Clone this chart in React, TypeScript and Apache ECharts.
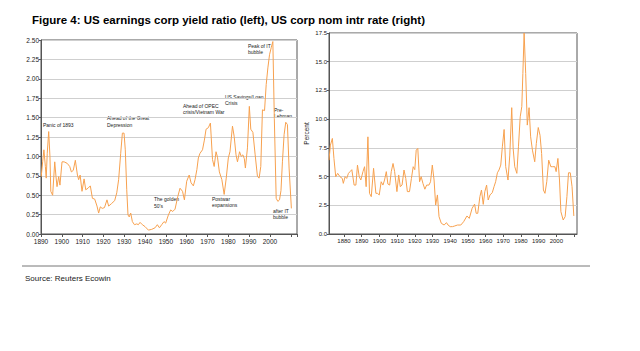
import React, { useEffect, useRef } from "react";
import * as echarts from "echarts";

const TITLE = "Figure 4: US earnings corp yield ratio (left), US corp nom intr rate (right)";
const SOURCE = "Source: Reuters Ecowin";

const ratioYears = [
  1890.1, 1890.8, 1891.4, 1892.1, 1892.5, 1893.0, 1893.7, 1894.3, 1894.7, 1895.6,
  1896.6, 1897.2, 1897.7, 1898.5, 1899.1, 1900.1, 1901.1, 1902.6, 1903.8, 1904.6,
  1905.5, 1906.5, 1907.5, 1908.1, 1908.8, 1909.7, 1910.7, 1911.5, 1912.6, 1913.7,
  1914.7, 1915.8, 1916.9, 1917.7, 1918.5, 1919.4, 1920.5, 1921.7, 1922.5, 1923.8,
  1925.4, 1926.4, 1927.3, 1928.3, 1929.1, 1929.9, 1930.5, 1931.2, 1931.8, 1932.4,
  1933.1, 1933.9, 1934.9, 1936.0, 1936.8, 1937.6, 1938.7, 1940.0, 1941.6, 1943.2,
  1944.8, 1945.9, 1946.9, 1948.0, 1949.1, 1949.9, 1951.2, 1952.3, 1953.3, 1954.4,
  1955.7, 1956.8, 1958.0, 1958.9, 1960.0, 1961.2, 1962.1, 1963.2, 1964.0, 1964.9,
  1965.6, 1966.4, 1967.6, 1968.5, 1969.3, 1970.4, 1971.4, 1972.4, 1973.2, 1974.1,
  1974.8, 1975.7, 1976.9, 1978.0, 1979.0, 1980.0, 1980.8, 1982.0, 1982.8, 1983.7,
  1984.4, 1985.4, 1986.2, 1987.0, 1987.7, 1988.2, 1989.2, 1990.1, 1990.8, 1991.8,
  1992.9, 1994.0, 1994.8, 1995.6, 1996.4, 1997.4, 1998.2, 1999.0, 1999.8, 2000.6,
  2001.4, 2002.1, 2003.0, 2003.8, 2004.6, 2005.3, 2006.0, 2006.8, 2007.6, 2008.4,
  2009.2, 2010.3,
];
const ratioValues = [
  0.74, 0.93, 1.085, 0.87, 0.72, 1.04, 1.32, 1.0, 0.55, 0.5,
  0.93, 0.74, 0.61, 0.74, 0.63, 0.93, 0.93, 0.91, 0.87, 0.8,
  0.82, 0.95, 0.76, 0.7, 0.76, 0.55, 0.71, 0.57, 0.59, 0.62,
  0.46, 0.45, 0.36, 0.27, 0.35, 0.33, 0.34, 0.44, 0.36, 0.39,
  0.43, 0.53, 0.7, 1.04, 1.3, 1.3, 1.085, 0.57, 0.245, 0.22,
  0.27, 0.16, 0.12, 0.13, 0.12, 0.15, 0.12, 0.095, 0.05, 0.06,
  0.08, 0.12, 0.08, 0.12, 0.16, 0.14, 0.245, 0.31, 0.29, 0.32,
  0.48, 0.59, 0.55, 0.44, 0.68, 0.76, 0.66, 0.62, 0.7, 0.83,
  0.98, 1.04, 1.085, 1.21, 1.35, 1.37, 1.43, 0.96, 0.87, 1.06,
  0.99, 0.8, 0.7, 0.51, 0.72, 0.98, 1.06, 1.39, 1.26, 1.02,
  0.93, 1.06, 1.0, 1.02, 0.97, 0.85, 1.11, 1.645, 1.35, 1.31,
  1.02, 0.74, 0.72, 0.87, 1.6, 1.59, 1.925, 2.14, 2.31, 2.4,
  2.48, 1.49, 0.46, 0.42, 0.44, 0.56, 0.93, 1.28, 1.44, 1.41,
  0.85, 0.33,
];

const rateYears = [
  1871.5, 1872.3, 1873.4, 1874.3, 1875.3, 1876.4, 1877.7, 1879.0, 1879.6, 1880.6,
  1881.5, 1882.5, 1883.4, 1884.4, 1885.7, 1886.7, 1887.6, 1888.6, 1889.5, 1890.7,
  1891.6, 1892.5, 1893.5, 1894.4, 1895.4, 1896.7, 1898.0, 1898.9, 1899.9, 1901.0,
  1902.0, 1902.9, 1903.9, 1904.8, 1905.8, 1906.7, 1907.7, 1908.6, 1909.9, 1910.9,
  1911.8, 1912.8, 1913.9, 1914.9, 1915.8, 1917.0, 1918.1, 1919.1, 1920.0, 1920.8,
  1921.7, 1922.7, 1923.6, 1924.6, 1925.7, 1926.7, 1928.0, 1928.9, 1929.9, 1930.9,
  1931.8, 1932.8, 1933.7, 1935.0, 1936.6, 1937.9, 1938.8, 1940.0, 1941.3, 1942.6,
  1944.1, 1946.0, 1947.6, 1949.5, 1950.8, 1952.4, 1953.8, 1954.7, 1955.6, 1956.8,
  1957.7, 1958.7, 1959.6, 1960.6, 1961.5, 1962.5, 1963.8, 1964.8, 1965.7, 1966.7,
  1967.6, 1968.6, 1969.5, 1970.5, 1971.4, 1972.7, 1973.7, 1974.8, 1975.6, 1976.5,
  1977.7, 1978.6, 1979.6, 1980.5, 1981.1, 1981.8, 1982.7, 1983.6, 1984.6, 1985.5,
  1986.5, 1987.8, 1988.7, 1989.8, 1990.8, 1991.7, 1992.7, 1993.6, 1994.6, 1995.7,
  1996.9, 1998.0, 1999.2, 1999.9, 2000.9, 2001.8, 2002.6, 2003.9, 2005.0, 2006.0,
  2006.9, 2007.9, 2008.9, 2009.9,
];
const rateValues = [
  6.43, 7.74, 8.32, 6.58, 4.99, 5.28, 4.99, 4.84, 4.41, 4.99,
  4.84, 5.28, 5.43, 5.6, 4.26, 4.26, 6.0, 4.99, 4.7, 5.43,
  5.86, 4.12, 8.46, 3.54, 3.25, 5.72, 3.54, 3.54, 3.4, 4.55,
  4.26, 4.7, 5.43, 4.35, 4.26, 5.43, 6.14, 5.43, 3.69, 5.14,
  4.12, 4.26, 5.57, 4.84, 3.69, 3.69, 4.84, 5.86, 5.6, 7.3,
  7.45, 4.55, 4.99, 4.41, 3.9, 4.26, 4.26, 4.55, 6.0, 4.7,
  2.52, 3.4, 1.51, 0.93, 0.78, 0.99, 0.78, 0.64, 0.64, 0.7,
  0.78, 0.78, 1.07, 1.57, 1.36, 2.23, 2.6, 1.8, 1.8, 3.25,
  3.83, 2.58, 3.69, 4.26, 2.96, 3.4, 3.6, 4.12, 4.55, 5.33,
  5.57, 6.0, 7.59, 9.1, 5.86, 4.7, 6.87, 11.0, 7.45, 5.86,
  5.28, 7.59, 10.2, 11.09, 13.97, 17.5, 13.97, 9.48, 11.0, 8.46,
  7.3, 6.29, 7.88, 9.27, 8.6, 7.01, 3.83, 3.54, 4.55, 6.43,
  5.86, 5.86, 5.86, 5.43, 6.58, 4.7, 1.94, 1.22, 1.51, 3.25,
  5.33, 5.33, 4.12, 1.57,
];

const rateLabelYears = [1880, 1890, 1900, 1910, 1920, 1930, 1940, 1950, 1960, 1970, 1980, 1990, 2000];
const rateTickYears = [...rateLabelYears, 2010];

const annotations = [
  { text: "Panic of 1893", x: 43, y: 122 },
  { text: "Ahead of the Great\nDepression", x: 107, y: 115 },
  { text: "The golden\n50's", x: 154, y: 196 },
  { text: "Ahead of OPEC\ncrisis/Vietnam War", x: 183, y: 102.5 },
  { text: "Postwar\nexpansions", x: 212, y: 195.5 },
  { text: "US Savings/Loan\nCrisis", x: 225, y: 93.5 },
  { text: "Peak of IT\nbubble", x: 248, y: 42.5 },
  { text: "Pre-\nLehman", x: 274, y: 106.5 },
  { text: "after IT\nbubble", x: 273, y: 207.5 },
];

const FONT = "'Liberation Sans', Arial, sans-serif";
const LINE_COLOR = "#F7A14F";

export default function App() {
  const ref = useRef<HTMLDivElement>(null);
  useEffect(() => {
    document.body.style.margin = "0";
    if (!ref.current) return;
    const chart = echarts.init(ref.current, null, { renderer: "svg" });
    const axisLabelBase = { color: "#222", fontFamily: FONT };
    chart.setOption({
      animation: false,
      backgroundColor: "#fff",
      textStyle: { fontFamily: FONT },
      title: {
        text: TITLE,
        left: 27,
        top: 9,
        textStyle: { fontSize: 11.5, fontWeight: "bold", color: "#000", fontFamily: FONT },
      },
      grid: [
        { left: 41, top: 40, width: 256, height: 194, show: true, borderColor: "#555", borderWidth: 1, backgroundColor: "transparent" },
        { left: 329, top: 33, width: 248, height: 201, show: true, borderColor: "#555", borderWidth: 1, backgroundColor: "transparent" },
      ],
      xAxis: [
        {
          type: "value", gridIndex: 0, min: 1890, max: 2013, interval: 10,
          axisLine: { lineStyle: { color: "#555" } },
          axisTick: { length: 3, lineStyle: { color: "#555" } },
          axisLabel: { ...axisLabelBase, fontSize: 6.5, margin: 4, formatter: (v: number) => (v > 2005 ? "" : String(v)) },
          splitLine: { show: false },
        },
        {
          type: "value", gridIndex: 1, min: 1871.5, max: 2011.7,
          axisLine: { lineStyle: { color: "#555" } },
          axisTick: { length: 3, lineStyle: { color: "#555" }, customValues: rateTickYears },
          axisLabel: { ...axisLabelBase, fontSize: 6, margin: 4, customValues: rateLabelYears, formatter: (v: number) => String(v) },
          splitLine: { show: false },
        },
      ],
      yAxis: [
        {
          type: "value", gridIndex: 0, min: 0, max: 2.5, interval: 0.25,
          axisLine: { show: true, lineStyle: { color: "#555" } },
          axisTick: { show: true, length: 2, lineStyle: { color: "#555" } },
          axisLabel: { ...axisLabelBase, fontSize: 6.5, margin: 2, formatter: (v: number) => v.toFixed(2) },
          splitLine: { lineStyle: { color: "#cfcfcf", width: 1 } },
        },
        {
          type: "value", gridIndex: 1, min: 0, max: 17.5, interval: 2.5,
          name: "Percent", nameLocation: "middle", nameGap: 19, nameRotate: 90,
          nameTextStyle: { fontSize: 6.5, color: "#222", fontFamily: FONT },
          axisLine: { show: true, lineStyle: { color: "#555" } },
          axisTick: { show: true, length: 2, lineStyle: { color: "#555" } },
          axisLabel: { ...axisLabelBase, fontSize: 6, margin: 2, formatter: (v: number) => v.toFixed(1) },
          splitLine: { lineStyle: { color: "#cfcfcf", width: 1 } },
        },
      ],
      series: [
        {
          type: "line", xAxisIndex: 0, yAxisIndex: 0, showSymbol: false, silent: true,
          lineStyle: { color: LINE_COLOR, width: 1 },
          data: ratioYears.map((y, i) => [y, ratioValues[i]]),
        },
        {
          type: "line", xAxisIndex: 1, yAxisIndex: 1, showSymbol: false, silent: true,
          lineStyle: { color: LINE_COLOR, width: 1 },
          data: rateYears.map((y, i) => [y, rateValues[i]]),
        },
      ],
      graphic: [
        ...annotations.map((a) => ({
          type: "text",
          x: a.x,
          y: a.y,
          style: { text: a.text, fontSize: 5, lineHeight: 6.5, fill: "#222", fontFamily: FONT, verticalAlign: "top" },
        })),
        { type: "line", shape: { x1: 22, y1: 266, x2: 590, y2: 266 }, style: { stroke: "#777", lineWidth: 1 } },
        { type: "text", x: 25, y: 274, style: { text: SOURCE, fontSize: 8, fill: "#222", fontFamily: FONT } },
      ],
    });
    return () => chart.dispose();
  }, []);
  return <div ref={ref} style={{ width: 640, height: 351 }} />;
}
